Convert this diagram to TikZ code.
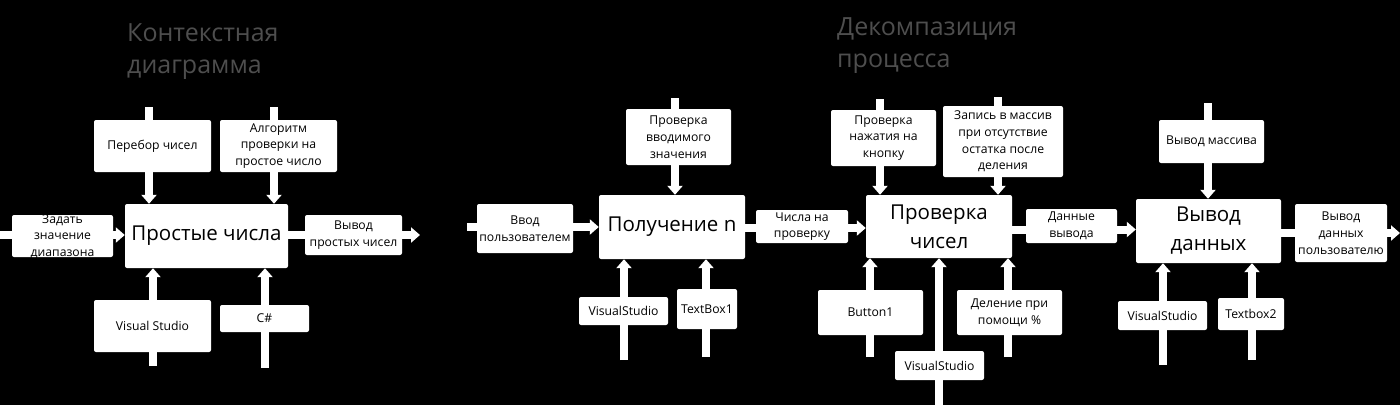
\documentclass[tikz,border=0pt]{standalone}
\usepackage{fontspec}
\setmainfont{Open Sans}
\usetikzlibrary{arrows.meta}
\definecolor{titlegray}{RGB}{78,78,78}
\pgfdeclarelayer{bg}
\pgfsetlayers{bg,main}
\tikzset{
  box/.style={fill=white, draw=none, rounded corners=2pt, inner sep=0pt, align=center, text=black,
    font=\fontsize{12.2}{16.7}\selectfont},
  bigbox/.style={box, font=\fontsize{20.5}{29}\selectfont},
  txt/.style={inner sep=0pt, align=center, text=black, font=\fontsize{12.2}{16.7}\selectfont},
  arr/.style={draw=white, line width=8pt, -{Triangle[width=15pt,length=9pt]}},
  ttl/.style={anchor=north west, inner sep=0pt, align=left, text=titlegray,
    font=\fontsize{25}{32}\selectfont},
}
\begin{document}
\begin{tikzpicture}[x=1pt,y=-1pt]
\begin{pgfonlayer}{bg}
\fill[black] (0,0) rectangle (1400,405);
\end{pgfonlayer}
\useasboundingbox (0,0) rectangle (1400,405);

% titles
\node[ttl] (t1) at (127,23) {Контекстная\\диаграмма};
\node[ttl] (t2) at (837,17) {Декомпазиция\\процесса};

% ---------- context diagram ----------
\node[bigbox, minimum width=163, minimum height=64] (m1) at (206.5,236) {Простые числа};
\node[box, minimum width=117, minimum height=52] (per) at (152.5,146) {Перебор чисел};
\node[box, minimum width=117, minimum height=52] (alg) at (278.5,146) {Алгоритм\\проверки на\\простое число};
\node[box, minimum width=101, minimum height=42] (zad) at (62.5,236) {};
\node[txt] (zadt) at (62.5,236.5) {Задать\\значение\\диапазона};
\node[box, minimum width=97, minimum height=40] (vyv1) at (353.5,235) {Вывод\\простых чисел};
\node[box, minimum width=117, minimum height=52] (vs1) at (152.5,326) {Visual Studio};
\node[box, minimum width=89, minimum height=27] (cs) at (264.5,318.5) {C\#};

\coordinate (a1) at (149,107);
\coordinate (a2) at (274,107);
\coordinate (a3) at (0,235);
\coordinate (a4) at (420,235);
\coordinate (a5) at (153,366);
\coordinate (a6) at (265,368);

% ---------- decomposition ----------
\node[bigbox, minimum width=146, minimum height=64] (m2) at (672,227) {Получение n};
\node[box, minimum width=96, minimum height=49] (vvod) at (525,228.5) {Ввод\\пользователем};
\node[box, minimum width=105, minimum height=56] (prov) at (678.5,137) {Проверка\\вводимого\\значения};
\node[box, minimum width=92, minimum height=33] (chis) at (802,226.5) {Числа на\\проверку};
\node[box, minimum width=89, minimum height=28] (vs2) at (623.5,311) {VisualStudio};
\node[box, minimum width=60, minimum height=40] (tb1) at (707,309) {TextBox1};

\coordinate (b1) at (675,98);
\coordinate (b2) at (467,227);
\coordinate (b3) at (624,360);
\coordinate (b4) at (706,357);

\node[bigbox, minimum width=146, minimum height=63] (m3) at (939,226.5) {Проверка\\чисел};
\node[box, minimum width=105, minimum height=56] (nazh) at (883.5,138) {Проверка\\нажатия на\\кнопку};
\node[box, minimum width=120, minimum height=71] (zap) at (1003,141.5) {Запись в массив\\при отсутствие\\остатка после\\деления};
\node[box, minimum width=91, minimum height=34] (dann) at (1071.5,226) {Данные\\вывода};
\node[box, minimum width=105, minimum height=45] (btn) at (870.5,312.5) {Button1};
\node[box, minimum width=105, minimum height=45] (del) at (1009.5,312.5) {Деление при\\помощи \%};
\node[box, minimum width=89, minimum height=29] (vs3) at (939.5,365.5) {VisualStudio};

\coordinate (c1) at (880,99);
\coordinate (c2) at (998,97);
\coordinate (c3) at (870,357);
\coordinate (c4) at (939,405);
\coordinate (c5) at (1008,357);

\node[bigbox, minimum width=145, minimum height=64] (m4) at (1208.5,231) {Вывод\\данных};
\node[box, minimum width=105, minimum height=43] (vmas) at (1211.5,141.5) {Вывод массива};
\node[box, minimum width=92, minimum height=58] (vpol) at (1341,233) {Вывод\\данных\\пользователю};
\node[box, minimum width=89, minimum height=29] (vs4) at (1162.5,315.5) {VisualStudio};
\node[box, minimum width=66, minimum height=32] (tb2) at (1251,314) {Textbox2};

\coordinate (d1) at (1208,103);
\coordinate (d2) at (1400,233);
\coordinate (d3) at (1163,365);
\coordinate (d4) at (1252,360);

% ---------- arrows (behind boxes) ----------
\begin{pgfonlayer}{bg}
\draw[arr] (a1) -- (a1 |- m1.north);
\draw[arr] (a2) -- (a2 |- m1.north);
\draw[arr] (a3) -- (a3 -| m1.west);
\draw[arr] (a4 -| m1.east) -- (a4);
\draw[arr] (a5) -- (a5 |- m1.south);
\draw[arr] (a6) -- (a6 |- m1.south);

\draw[arr] (b1) -- (b1 |- m2.north);
\draw[arr] (b2) -- (b2 -| m2.west);
\draw[arr] (b3) -- (b3 |- m2.south);
\draw[arr] (b4) -- (b4 |- m2.south);
\draw[arr] (m2.east |- 0,228) -- (m3.west |- 0,228);

\draw[arr] (c1) -- (c1 |- m3.north);
\draw[arr] (c2) -- (c2 |- m3.north);
\draw[arr] (c3) -- (c3 |- m3.south);
\draw[arr] (c4) -- (c4 |- m3.south);
\draw[arr] (c5) -- (c5 |- m3.south);
\draw[arr] (m3.east |- 0,229.5) -- (m4.west |- 0,229.5);

\draw[arr] (d1) -- (d1 |- m4.north);
\draw[arr] (d2 -| m4.east) -- (d2);
\draw[arr] (d3) -- (d3 |- m4.south);
\draw[arr] (d4) -- (d4 |- m4.south);
\end{pgfonlayer}
\end{tikzpicture}
\end{document}
